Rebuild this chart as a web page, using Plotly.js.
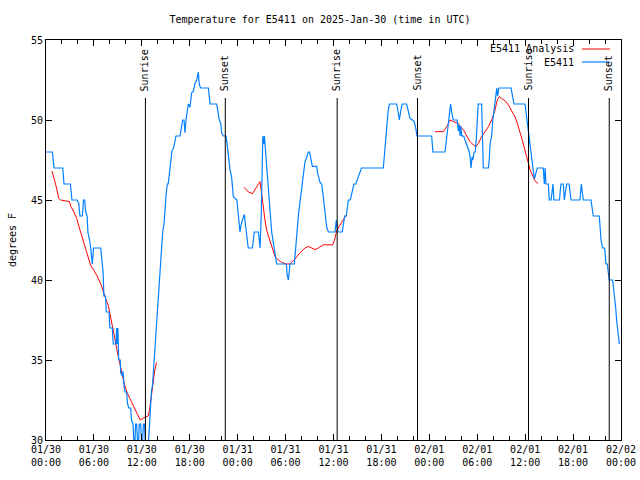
<!DOCTYPE html>
<html>
<head>
<meta charset="utf-8">
<script src="https://cdn.plot.ly/plotly-3.0.1.min.js"></script>
<style>html,body{margin:0;padding:0;background:#fff}#chart{width:640px;height:480px}</style>
</head>
<body>
<div id="chart"></div>
<script>
// hours since 2025-01-30 00:00 UTC
var blueTimes = [
  0.05,0.8,1.0,2.1,2.25,3.05,3.25,3.9,
  4.1,4.25,4.55,4.7,4.85,4.95,5.15,5.25,5.45,5.6,5.8,5.95,6.85,
  7.0,7.15,7.25,7.45,7.55,7.9,8.0,8.3,8.43,8.75,8.85,8.9,9.0,
  9.1,9.3,9.35,9.55,9.65,9.8,9.9,10.1,10.2,10.35,10.6,
  10.7,10.9,11.0,11.15,11.22,11.35,11.45,11.6,11.68,11.85,11.95,12.1,12.2,12.35,12.45,12.8,12.85,
  12.95,13.05,13.1,13.2,13.35,13.45,13.55,13.65,13.72,13.8,13.95,14.1,14.2,14.36,14.48,14.61,14.78,14.9,15.03,15.19,
  15.3,15.44,15.61,15.78,15.95,16.15,16.28,16.78,16.99,17.11,
  17.28,17.4,17.53,17.7,17.82,18.03,18.24,18.45,18.66,18.87,
  19.07,19.2,19.37,20.33,20.54,21.37,21.5,21.7,21.87,22.0,
  22.2,22.54,22.7,22.83,23.04,23.25,23.46,23.9,24.0,24.16,
  24.29,24.45,24.6,24.7,24.83,24.91,25.04,25.25,25.33,25.84,
  25.96,26.08,26.6,26.7,26.8,26.95,27.15,27.25,27.35,27.5,
  27.65,27.84,28.05,28.26,28.47,28.68,28.88,30.1,30.2,30.35,
  30.45,30.55,31.1,31.25,31.39,31.6,31.81,32.0,32.1,32.23,
  32.43,32.6,32.85,33.0,33.1,33.35,33.9,34.0,34.31,34.52,
  34.72,34.93,35.15,35.36,36.19,36.35,36.45,36.55,37.1,37.25,
  37.4,37.6,37.86,38.1,38.4,38.56,38.8,39.0,39.2,39.5,
  42.24,42.35,42.45,42.65,42.85,43.0,43.91,44.1,44.24,44.4,
  44.6,45.16,45.35,45.58,45.9,46.1,46.3,46.45,48.29,48.45,
  49.96,50.17,50.4,50.55,50.67,50.8,51.0,51.5,51.63,51.75,
  51.85,51.95,52.05,52.3,52.45,52.6,53.0,53.12,53.22,53.35,
  53.45,53.6,53.76,53.9,54.0,54.12,54.55,54.65,54.76,55.39,
  55.5,55.6,55.8,55.95,56.1,56.3,56.45,56.55,56.7,58.23,
  58.45,58.6,59.98,60.1,60.27,60.35,60.5,60.6,60.75,60.9,
  61.0,61.15,61.3,61.52,62.27,62.4,62.5,62.6,62.9,63.02,
  63.25,63.35,63.48,63.6,64.3,64.4,64.48,64.78,64.9,65.05,
  65.19,65.5,65.6,65.74,66.86,66.95,67.03,67.15,67.28,68.24,
  68.35,68.53,69.28,69.35,69.5,69.7,69.95,70.12,70.3,70.4,
  70.54,70.95,71.16,71.33,71.45,71.58,71.79];
var blueTemps = [
  48,48,47,47,46,46,45,45,
  44.8,44,44,45,45,44.3,44,43,42.5,42,41,42,42,
  41,40.5,39,39,38,38,37,37,36,36,37,36,37,
  35,35,34.2,34,34.3,33.3,33,33,32.3,32,32,
  31.25,31,30,30,31,31,30,30,31,31,30,30,31,31,29.5,29.5,30,
  31,31.5,32,33,33.5,34.3,35,35.4,36.5,37.1,38.1,39.2,40.2,41.5,42.5,43,43.5,44.6,45.3,46,
  46,46.6,47.5,48.1,48.2,48.85,49,49,49.8,50,
  50,49.2,50,50.5,51,50.8,51.7,51.8,52.3,52.5,
  53,52.2,52,52,51,51,50.6,50,49.8,49.2,
  49,49,48.4,47.8,46.9,46.4,45.2,45,44.4,43.75,
  43,43.5,43.75,44,44.1,43.75,43,42.3,42,42,
  42.5,43,43,42.5,42,44,49,48.5,49,48,
  47,45.6,44,43,42.3,41.5,41,41,40.3,40,
  40.5,41,41,42,42.8,44,44.9,45.8,46.1,46.8,
  47.4,47.6,48,48,47.7,47.1,47.1,46.7,46.1,46,
  45.2,44.2,43.3,43,43,43.75,43.2,43,43,43.5,
  44,44,45,45,45.8,46,46,46.3,46.6,47,
  47,47.7,48.5,49.6,50.6,51,51,50.5,50,50.5,
  51,51,50.5,50.1,50,49.9,49.5,49,49,48,
  48,49,49.8,50.5,51,50.5,50,50,49.3,49.7,
  49,49.6,49,49,48.8,48.5,48,47.6,47,47.7,
  47.5,48,48,49,50,51,51,49,47,47,
  47.5,48.5,49,50,50.7,51.5,52,51.5,52,52,
  51.5,51,51,50.5,50,49.3,48.85,48.3,47.8,47.3,
  46.9,46.3,46.6,47,47,46,47,46,46,45,
  45,45.6,46,45,45,45.6,46,46,45,45.5,
  46,46,45.5,45,45,45.5,46,45.5,45,45,
  44.5,44,44,43.3,42.5,42,42,41,41,40.5,
  40,40,39.2,38.3,37.5,36.8,36];

var redTimes = [0.75,1.2,1.6,1.8,2.95,3.1,3.45,3.84,4.15,4.4,4.7,5.0,5.4,5.6,6.0,6.45,6.9,7.2,7.5,7.8,8.1,8.3,8.6,8.85,9.1,9.4,9.8,10.2,10.6,11.0,11.4,11.8,12.3,12.8,13.0,13.2,13.4,13.6,13.85,
  19.0,
  24.8,25.35,25.85,26.3,26.8,27.0,27.2,27.42,27.63,27.84,28.05,28.26,28.47,28.68,29.1,29.5,30.1,30.55,30.97,31.39,31.8,32.43,32.85,33.27,33.69,34.1,34.73,35.9,36.19,36.4,36.8,37.23,37.6,
  43.0,
  48.71,49.75,50.17,50.59,51.0,51.63,51.85,52.26,52.68,53.1,53.51,53.84,54.14,54.55,54.97,55.39,55.8,56.22,56.5,56.77,57.06,57.48,57.9,58.31,58.73,59.02,59.35,59.69,59.98,60.27,60.61,60.95,61.23,61.65];
var redTemps = [46.8,46.0,45.1,45.0,44.9,44.6,44.3,43.85,43.3,42.9,42.3,41.9,41.3,40.9,40.6,40.2,39.7,39.2,38.8,38.4,37.7,37.3,36.4,35.7,35.1,34.3,33.5,32.9,32.5,32.0,31.6,31.25,31.4,31.5,32.0,32.8,33.5,34.3,34.85,
  null,
  45.8,45.5,45.4,45.8,46.15,45.4,44.5,43.75,43.1,42.8,42.5,42.1,41.8,41.46,41.25,41.1,41.0,41.0,41.2,41.46,41.7,42.0,42.1,42.0,41.9,42.0,42.2,42.2,42.6,43.1,43.4,43.75,44.06,
  null,
  49.27,49.27,49.58,50.0,49.9,49.79,49.6,49.4,49.0,48.65,48.44,48.33,48.54,48.96,49.27,49.58,50.0,50.6,51.25,51.46,51.35,51.2,50.94,50.6,50.2,49.79,49.27,48.65,48.1,47.5,46.9,46.5,46.2,46.0];

var sunEventTimes = [12.45, 22.45, 36.46, 46.52, 60.42, 70.53];
var sunEventLabels = ["Sunrise","Sunset","Sunrise","Sunset","Sunrise","Sunset"];

var tickHours = [0,6,12,18,24,30,36,42,48,54,60,66,72];
var tickLabels = ["01/30<br>00:00","01/30<br>06:00","01/30<br>12:00","01/30<br>18:00",
                  "01/31<br>00:00","01/31<br>06:00","01/31<br>12:00","01/31<br>18:00",
                  "02/01<br>00:00","02/01<br>06:00","02/01<br>12:00","02/01<br>18:00","02/02<br>00:00"];

var seriesNames = ["E5411 Analysis","E5411"];
var seriesColors = ["#ff0000","#0080ff"];

var FONT = "DejaVu Sans Mono, monospace";

var traces = [
  {x: redTimes, y: redTemps, type: "scatter", mode: "lines", name: seriesNames[0],
   line: {color: seriesColors[0], width: 1}, connectgaps: false, showlegend: false},
  {x: blueTimes, y: blueTemps, type: "scatter", mode: "lines", name: seriesNames[1],
   line: {color: seriesColors[1], width: 1.2}, showlegend: false}
];

var shapes = [];
var annotations = [];
for (var i = 0; i < sunEventTimes.length; i++) {
  shapes.push({type: "line", xref: "x", yref: "paper", x0: sunEventTimes[i], x1: sunEventTimes[i],
               y0: 0, y1: 0.855, line: {color: "#000", width: 1}});
  annotations.push({xref: "x", yref: "paper", x: sunEventTimes[i], y: 0.8675, text: sunEventLabels[i],
                    textangle: -90, showarrow: false, xanchor: "center", yanchor: "bottom",
                    font: {family: FONT, size: 10, color: "#000"}});
}
// gnuplot-style key: text right-aligned, sample line to its right
var keyY = [0.9775, 0.945];
for (var j = 0; j < seriesNames.length; j++) {
  annotations.push({xref: "paper", yref: "paper", x: 0.921, y: keyY[j], text: seriesNames[j],
                    showarrow: false, xanchor: "right", yanchor: "middle",
                    font: {family: FONT, size: 10, color: "#000"}});
  shapes.push({type: "line", xref: "paper", yref: "paper", x0: 0.932, x1: 0.981, y0: keyY[j], y1: keyY[j],
               line: {color: seriesColors[j], width: j === 0 ? 1 : 1.2}});
}

var layout = {
  width: 640, height: 480,
  margin: {l: 46, r: 19, t: 40, b: 40, pad: 0},
  paper_bgcolor: "#fff", plot_bgcolor: "#fff",
  font: {family: FONT, size: 10, color: "#000"},
  title: {text: "Temperature for E5411 on 2025-Jan-30 (time in UTC)", xref: "container", x: 0.5,
          y: 0.96, yanchor: "middle", font: {family: FONT, size: 10, color: "#000"}},
  xaxis: {range: [0, 72], tickmode: "array", tickvals: tickHours, ticktext: tickLabels,
          ticks: "inside", ticklen: 6, tickcolor: "#000", mirror: "ticks", showline: true,
          linecolor: "#000", linewidth: 1, showgrid: false, zeroline: false,
          minor: {dtick: 2, tick0: 0, ticks: "inside", ticklen: 4, tickcolor: "#000", showgrid: false},
          tickfont: {family: FONT, size: 10, color: "#000"}, fixedrange: true},
  yaxis: {range: [30, 55], dtick: 5, tick0: 30, ticks: "inside", ticklen: 6, tickcolor: "#000",
          mirror: "ticks", showline: true, linecolor: "#000", linewidth: 1, showgrid: false,
          zeroline: false, tickfont: {family: FONT, size: 10, color: "#000"},
          title: {text: "degrees F", standoff: 12, font: {family: FONT, size: 10, color: "#000"}},
          fixedrange: true},
  shapes: shapes,
  annotations: annotations,
  showlegend: false
};

Plotly.newPlot("chart", traces, layout, {displayModeBar: false, staticPlot: true});
</script>
</body>
</html>
